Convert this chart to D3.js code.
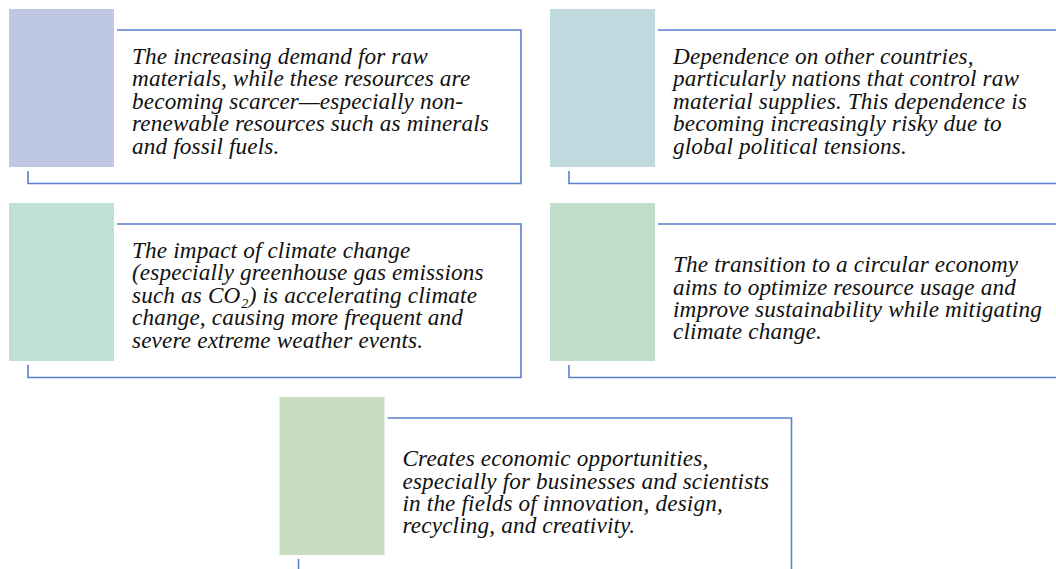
<!DOCTYPE html>
<html>
<head>
<meta charset="utf-8">
<script src="https://cdn.jsdelivr.net/npm/d3@7"></script>
<style>
  body { margin: 0; background: #fff; }
  svg { display: block; }
  text { font-family: "Liberation Serif", "Times New Roman", Times, serif; }
</style>
</head>
<body>
<svg id="chart"></svg>
<script>
//variable definition
var WIDTH = 1056;
var HEIGHT = 569;
var RECT_W = 105;
var RECT_H = 158;
var FRAME_RIGHT = 512;   // right edge of frame, from card left
var FRAME_TOP = 21;
var FRAME_BOTTOM = 174.5;
var FONT_SIZE = 23.2;
var LINE_H = 22.4;

// card contents (one entry per card)
var TEXTS = [
    ["The increasing demand for raw", "materials, while these resources are", "becoming scarcer\u2014especially non-", "renewable resources such as minerals", "and fossil fuels."],
    ["Dependence on other countries,", "particularly nations that control raw", "material supplies. This dependence is", "becoming increasingly risky due to", "global political tensions."],
    ["The impact of climate change", "(especially greenhouse gas emissions", "such as CO\u2082) is accelerating climate", "change, causing more frequent and", "severe extreme weather events."],
    ["The transition to a circular economy", "aims to optimize resource usage and", "improve sustainability while mitigating", "climate change."],
    ["Creates economic opportunities,", "especially for businesses and scientists", "in the fields of innovation, design,", "recycling, and creativity."]
];
var COLORS = ["#bec8e2", "#c0dadf", "#bfe0d7", "#c0decb", "#c8dcc1"];
var ROWS = [0, 0, 1, 1, 2];
var COLS = [0, 1, 0, 1, 0.5];

var xScale = d3.scaleLinear().domain([0, 1]).range([9, 550]);
var yScale = d3.scaleLinear().domain([0, 1]).range([9, 203]);

var svg = d3.select("#chart")
    .attr("width", WIDTH)
    .attr("height", HEIGHT);

var cards = TEXTS.map((t, i) => ({
    lines: t,
    color: COLORS[i],
    x: xScale(COLS[i]),
    y: yScale(ROWS[i])
}));

var g = svg.selectAll("g.card")
    .data(cards)
    .enter()
    .append("g")
    .attr("class", "card")
    .attr("transform", d => `translate(${d.x}, ${d.y})`);

// frame
g.append("path")
    .attr("fill", "none")
    .attr("stroke", "#5a7fcf")
    .attr("stroke-width", 1.6)
    .attr("d", `M${RECT_W + 3},${FRAME_TOP}H${FRAME_RIGHT}V${FRAME_BOTTOM}H19V${RECT_H + 4}`);

// coloured block
g.append("rect")
    .attr("width", RECT_W)
    .attr("height", RECT_H)
    .attr("fill", d => d.color);

// text, centred in the frame (shorter blocks sit a bit lower)
g.append("text")
    .style("font-style", "italic")
    .style("font-size", FONT_SIZE + "px")
    .style("letter-spacing", "0.15px")
    .attr("fill", "#111")
    .selectAll("tspan")
    .data(d => d.lines.map((l, j) => ({ text: l, j: j, n: d.lines.length })))
    .enter()
    .append("tspan")
    .attr("x", RECT_W + 18)
    .attr("y", d => (FRAME_TOP + FRAME_BOTTOM) / 2 + 2 + (5 - d.n) * 3 + (d.j - (d.n - 1) / 2) * LINE_H)
    .text(d => d.text);
</script>
</body>
</html>
